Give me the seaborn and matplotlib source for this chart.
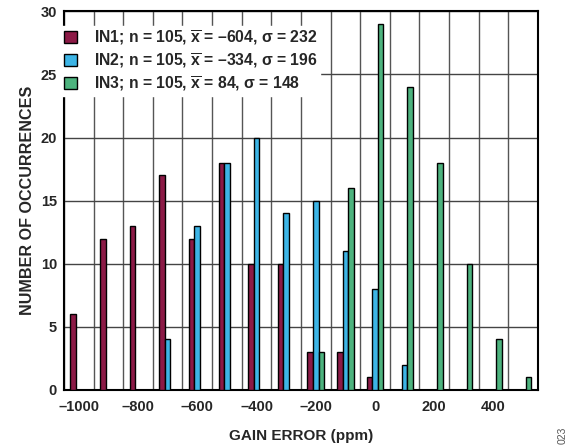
import matplotlib
matplotlib.use("Agg")
import matplotlib.pyplot as plt
from matplotlib.patches import Patch
from matplotlib.ticker import MultipleLocator, FixedLocator
import seaborn as sns
import pandas as pd

# ---- data ----
in1_x = [-1000, -900, -800, -700, -600, -500, -400, -300, -200, -100, 0]
in1_y = [6, 12, 13, 17, 12, 18, 10, 10, 3, 3, 1]
in2_x = [-700, -600, -500, -400, -300, -200, -100, 0, 100]
in2_y = [4, 13, 18, 20, 14, 15, 11, 8, 2]
in3_x = [-200, -100, 0, 100, 200, 300, 400, 500]
in3_y = [3, 16, 29, 24, 18, 10, 4, 1]
series_names = ["IN1", "IN2", "IN3"]
xbar = r"$\mathbf{\overline{x}}$"
legend_labels = [
    "IN1; n = 105, " + xbar + " = \u2013604, \u03c3 = 232",
    "IN2; n = 105, " + xbar + " = \u2013334, \u03c3 = 196",
    "IN3; n = 105, " + xbar + " = 84, \u03c3 = 148",
]
xtick_vals = [-1000, -800, -600, -400, -200, 0, 200, 400]
xtick_labels = ["\u20131000", "\u2013800", "\u2013600", "\u2013400", "\u2013200", "0", "200", "400"]
colors = ["#8C1A46", "#3DB5E6", "#4DB37E"]

rows = []
for name, xs, ys in zip(series_names, [in1_x, in2_x, in3_x], [in1_y, in2_y, in3_y]):
    for xv, yv in zip(xs, ys):
        rows.append({"x": xv, "count": yv, "series": name})
df = pd.DataFrame(rows)

sns.set_style("white")
plt.rcParams["font.family"] = ["Liberation Sans", "DejaVu Sans"]
plt.rcParams["font.weight"] = "bold"
plt.rcParams["mathtext.fontset"] = "custom"
plt.rcParams["mathtext.rm"] = "Liberation Sans"
plt.rcParams["mathtext.bf"] = "Liberation Sans:bold"
plt.rcParams["mathtext.it"] = "Liberation Sans:bold"

fig = plt.figure(figsize=(5.76, 4.46), dpi=100)
ax = fig.add_axes([0.111, 0.1256, 0.823, 0.849])

sns.barplot(data=df, x="x", y="count", hue="series", hue_order=series_names,
            palette=colors, native_scale=True, width=0.56, dodge=True,
            edgecolor="black", linewidth=1.0, saturation=1, ax=ax, legend=False,
            zorder=3)

ax.set_xlim(-1050, 550)
ax.set_ylim(0, 30)
ax.xaxis.set_major_locator(FixedLocator(xtick_vals))
ax.set_xticklabels(xtick_labels)
ax.xaxis.set_minor_locator(MultipleLocator(100, offset=50))
ax.yaxis.set_major_locator(MultipleLocator(5))
ax.grid(True, which="minor", axis="x", color="#555555", linewidth=1.0, zorder=0)
ax.grid(True, which="major", axis="y", color="#444444", linewidth=1.0, zorder=0)
ax.grid(False, which="major", axis="x")
ax.set_axisbelow(True)
ax.tick_params(which="both", length=0, labelsize=10.5)
ax.tick_params(axis="x", pad=7)
ax.tick_params(axis="y", pad=5)
for lab in ax.get_xticklabels() + ax.get_yticklabels():
    lab.set_fontweight("bold")
for sp in ax.spines.values():
    sp.set_visible(True)
    sp.set_color("black")
    sp.set_linewidth(1.5)

ax.set_xlabel("GAIN ERROR (ppm)", fontsize=11, fontweight="bold", labelpad=11)
ax.set_ylabel("NUMBER OF OCCURRENCES", fontsize=11.6, fontweight="bold", labelpad=4)

handles = [Patch(facecolor=c, edgecolor="black", linewidth=1.0) for c in colors]
leg = ax.legend(handles, legend_labels, loc="upper left", bbox_to_anchor=(-0.004, 0.962),
                frameon=True, fancybox=False, framealpha=1, edgecolor="white",
                prop={"weight": "bold", "size": 11.3}, handlelength=0.78, handleheight=0.78,
                handletextpad=1.1, borderpad=0.15, labelspacing=0.27, borderaxespad=0.0)
leg.set_zorder(5)

fig.text(0.976, 0.005, "023", rotation=90, fontsize=7.5, color="#555555",
         fontweight="normal", ha="center", va="bottom")

fig.savefig("out.png", dpi=100)
